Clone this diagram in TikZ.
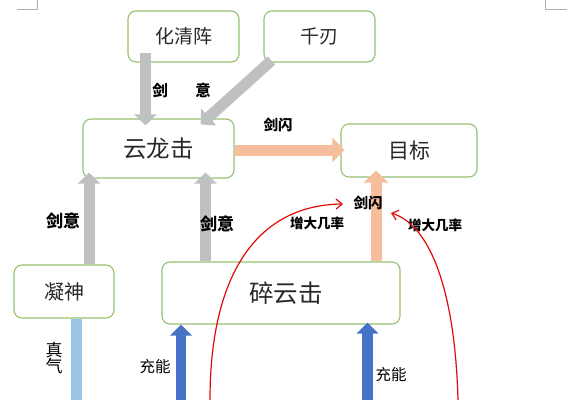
\documentclass[tikz,border=0pt]{standalone}
\usepackage{fontspec}
\setmainfont{Noto Sans CJK SC}
\usetikzlibrary{arrows.meta,calc}
\definecolor{boxgreen}{RGB}{150,194,112}
\definecolor{arrowgrey}{RGB}{192,192,192}
\definecolor{arroworange}{RGB}{246,190,156}
\definecolor{darkblue}{RGB}{68,114,196}
\definecolor{lightblue}{RGB}{157,195,230}
\definecolor{cornergrey}{RGB}{175,175,175}
\definecolor{curvered}{RGB}{225,10,10}
\definecolor{boxtext}{RGB}{40,40,40}
\begin{document}
\begin{tikzpicture}[x=1pt,y=-1pt,
  box/.style={draw=boxgreen, line width=1.1pt, rounded corners=8pt, fill=white, inner sep=0pt, text=boxtext},
  fs/.style={font=\fontsize{#1}{#1}\selectfont},
  lbl/.style={inner sep=0pt, font=\bfseries\fontsize{#1}{#1}\selectfont},
  reg/.style={inner sep=0pt, font=\fontsize{#1}{#1}\selectfont},
  greyarrow/.style={line width=11pt, draw=arrowgrey, -{Triangle[length=11pt,width=22pt]}},
  orangearrow/.style={line width=11pt, draw=arroworange, -{Triangle[length=12pt,width=24pt]}},
  bluearrow/.style={line width=10.5pt, draw=darkblue, -{Triangle[length=11pt,width=21pt]}},
  lightbluebar/.style={line width=11pt, draw=lightblue},
  redline/.style={draw=curvered, line width=1.2pt, -{Straight Barb[length=6pt,width=10pt]}}
]
\useasboundingbox (0,0) rectangle (572,400);

% corner marks
\draw[cornergrey, line width=0.8pt] (17,9) -- (37,9) -- (37,0);
\draw[cornergrey, line width=0.8pt] (545,0) -- (545,9) -- (567,9);

% boxes
\node[box, minimum width=111pt, minimum height=51pt, fs=19] (hqz) at (183.5,36.5) {化清阵\hspace{6pt}};
\node[box, minimum width=111pt, minimum height=51pt, fs=19] (qr) at (319.5,36.5) {千刃};
\node[box, minimum width=151pt, minimum height=59pt, fs=23.5] (ylj) at (158.5,148.5) {云龙击\hspace{12pt}};
\node[box, minimum width=136pt, minimum height=53pt, fs=21] (mb) at (409,150.5) {目标};
\node[box, minimum width=100pt, minimum height=53pt, fs=20] (ns) at (64,291.5) {凝神\hspace{20pt}};
\node[box, minimum width=238pt, minimum height=62pt, fs=24.5] (syj) at (281,293) {\hspace{10pt}碎云击};

% grey arrows
\draw[greyarrow] ($(hqz.south)+(-38,-10)$) -- ($(ylj.north)+(-13,7)$);
\draw[greyarrow] ($(qr.south west)+(8,-2)$) -- ($(ylj.north east)+(-34,6)$);
\draw[greyarrow] ($(ns.north)+(25,0)$) -- ($(ylj.south)+(-69.5,-6)$);
\draw[greyarrow] ($(syj.north)+(-75.5,0)$) -- ($(ylj.south)+(47,-6)$);

% orange arrows
\draw[orangearrow] ($(ylj.east)+(0,1.5)$) -- ($(mb.west)+(4,-0.5)$);
\draw[orangearrow] ($(syj.north)+(95,0)$) -- ($(mb.south)+(-33,-7)$);

% blue arrows
\coordinate (lbB) at (76.5,400);
\draw[lightbluebar] (lbB) -- (lbB |- ns.south);
\coordinate (bA) at (181,400);
\draw[bluearrow] (bA) -- ($(syj.south)+(-100,0)$);
\coordinate (bB) at (367.5,400);
\draw[bluearrow] (bB) -- ($(syj.south)+(86.5,-2)$);

% labels
\node[lbl=15.5] (l1) at (160,90) {剑};
\node[lbl=15.5] (l2) at (203,90) {意};
\node[lbl=14.5] (l3) at (278,125) {剑闪};
\node[lbl=17] (l4) at (63,221) {剑意};
\node[lbl=17] (l5) at (217,224) {剑意};
\node[lbl=14.5] (l6) at (368,203) {剑闪};
\node[lbl=13.5] (l7) at (317,223) {增大几率};
\node[lbl=13.5] (l8) at (435,225) {增大几率};
\node[reg=16, align=center, font=\fontsize{17}{14}\selectfont] (l9) at (54,358) {真\\气};
\node[reg=15.5] (l10) at (155,367) {充能};
\node[reg=15.5] (l11) at (391,375) {充能};

% red curves
\coordinate (rA) at (210,400);
\coordinate (rB) at (343,204);
\draw[redline] (rA) .. controls (210,270) and (260,205) .. (rB);
\coordinate (rC) at (458,400);
\coordinate (rD) at (391,213);
\draw[redline] (rC) .. controls (455,290) and (430,225) .. (rD);
\end{tikzpicture}
\end{document}
